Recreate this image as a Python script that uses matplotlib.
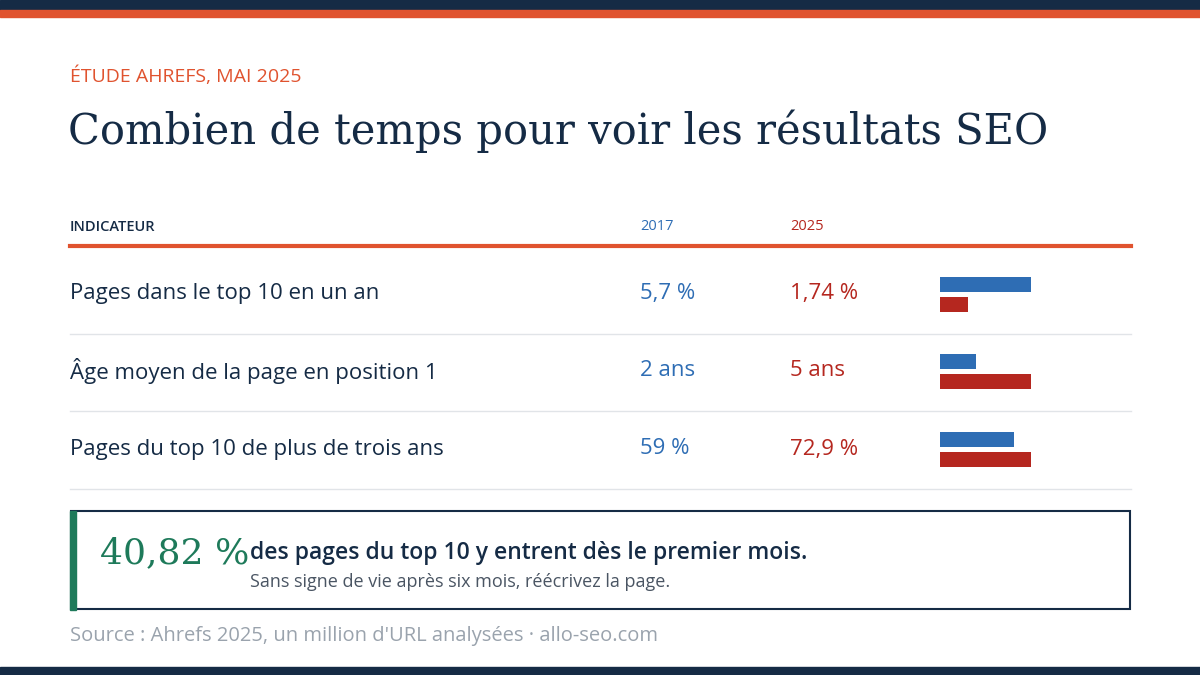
import matplotlib
matplotlib.use("Agg")
import matplotlib.pyplot as plt
from matplotlib.patches import Rectangle

indicators = ["Pages dans le top 10 en un an", "Âge moyen de la page en position 1", "Pages du top 10 de plus de trois ans"]
v2017 = [5.7, 2, 59]
v2025 = [1.74, 5, 72.9]
lab2017 = ["5,7 %", "2 ans", "59 %"]
lab2025 = ["1,74 %", "5 ans", "72,9 %"]

NAVY = "#152b45"; ORANGE = "#e0532f"; BLUE = "#2e6db4"; RED = "#b5271f"; GREEN = "#1e7a5a"; GREY = "#9aa3ad"
SANS = ["Open Sans", "DejaVu Sans"]

fig = plt.figure(figsize=(12, 6.75), dpi=100)
ax = fig.add_axes([0, 0, 1, 1])
ax.set_xlim(0, 1200); ax.set_ylim(675, 0); ax.axis("off")

ax.add_patch(Rectangle((0, 0), 1200, 10, color=NAVY))
ax.add_patch(Rectangle((0, 10), 1200, 7, color=ORANGE))
ax.add_patch(Rectangle((0, 667), 1200, 8, color=NAVY))

ax.text(70, 76, "ÉTUDE AHREFS, MAI 2025", color=ORANGE, fontsize=14, family=SANS, va="center")
ax.text(68, 131, "Combien de temps pour voir les résultats SEO", color=NAVY, fontsize=30, family=["DejaVu Serif"], va="center")

ax.text(70, 227, "INDICATEUR", color=NAVY, fontsize=10.5, family=SANS, va="center", weight="semibold")
ax.text(640, 227, "2017", color=BLUE, fontsize=10.5, family=SANS, va="center")
ax.text(790, 227, "2025", color=RED, fontsize=10.5, family=SANS, va="center")
ax.plot([70, 1131], [246, 246], color=ORANGE, lw=3)

rows_y = [294, 371, 449]
for i, y in enumerate(rows_y):
    ax.text(70, y, indicators[i], color=NAVY, fontsize=16, family=SANS, va="center")
    ax.text(640, y, lab2017[i], color=BLUE, fontsize=16, family=SANS, va="center", weight="medium")
    ax.text(790, y, lab2025[i], color=RED, fontsize=16, family=SANS, va="center", weight="medium")
    ax.plot([70, 1131], [y + 40, y + 40], color="#e1e4e8", lw=1)
    m = max(v2017[i], v2025[i])
    iax = fig.add_axes([940 / 1200, 1 - (y + 20) / 675, 91 / 1200, 40 / 675])
    iax.set_xlim(0, m); iax.set_ylim(1.5, -0.5); iax.axis("off")
    iax.barh([0, 1], [v2017[i], v2025[i]], height=0.75, color=[BLUE, RED])

ax.add_patch(Rectangle((71, 511), 1059, 98, fill=False, ec=NAVY, lw=1.5))
ax.add_patch(Rectangle((70, 511), 6, 99, color=GREEN))
ax.text(100, 553, "40,82 %", color=GREEN, fontsize=26, family=["DejaVu Serif"], va="center")
ax.text(250, 553, "des pages du top 10 y entrent dès le premier mois.", color=NAVY, fontsize=16.5, family=SANS, va="center", weight="semibold")
ax.text(250, 582, "Sans signe de vie après six mois, réécrivez la page.", color="#4a5563", fontsize=13, family=SANS, va="center")
ax.text(70, 636, "Source : Ahrefs 2025, un million d'URL analysées · allo-seo.com", color=GREY, fontsize=14.5, family=SANS, va="center")

fig.savefig("out.png", dpi=100, facecolor="white")
